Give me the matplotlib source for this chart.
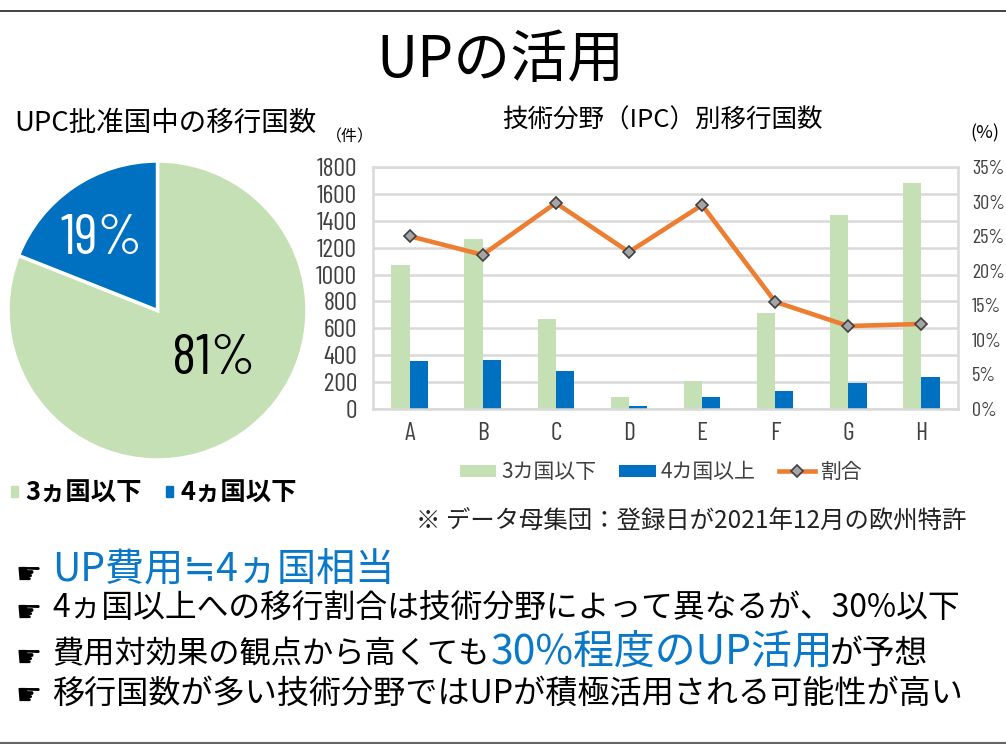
import matplotlib
matplotlib.use("Agg")
import matplotlib.pyplot as plt
from matplotlib.lines import Line2D
from matplotlib.patches import Patch
import numpy as np

plt.rcParams['font.family'] = ['Noto Sans CJK JP', 'DejaVu Sans']
NARROW = ['Barlow Condensed', 'Noto Sans CJK JP', 'DejaVu Sans']

W, H = 1006, 744
GREEN = '#C5E0B4'
BLUE = '#0070C0'
ORANGE = '#ED7D31'
TEXT_BLUE = '#0A78C8'

# data
pie_labels = ['3ヵ国以下', '4ヵ国以下']
pie_values = [81, 19]
categories = ['A', 'B', 'C', 'D', 'E', 'F', 'G', 'H']
under3 = [1070, 1268, 668, 89, 205, 712, 1446, 1684]
over4 = [356, 363, 279, 25, 89, 131, 193, 237]
ratio = [25.0, 22.3, 29.8, 22.7, 29.5, 15.5, 12.0, 12.3]
left_ticks = list(range(0, 1801, 200))
right_ticks = list(range(0, 36, 5))


def box(x0, y0, x1, y1):
    # pixel box (top-left origin) to figure fraction
    return [x0 / W, 1 - y1 / H, (x1 - x0) / W, (y1 - y0) / H]


def put(x, y, s, size, color='black', **kw):
    kw.setdefault('va', 'center')
    return fig.text(x / W, 1 - y / H, s, fontsize=size, color=color, **kw)


fig = plt.figure(figsize=(W / 100, H / 100), dpi=100)

# slide rules
fig.add_artist(Line2D([0, 1], [1 - 10.5 / H] * 2, color='#333333', lw=1.3))
fig.add_artist(Line2D([0, 1], [1 - 743 / H] * 2, color='#666666', lw=1.5))

put(500, 61, 'UPの活用', 41, ha='center')
put(14, 123, 'UPC批准国中の移行国数', 19.8)
put(662, 121, '技術分野（IPC）別移行国数', 18.4, ha='center')
put(350, 137, '（件）', 11.5, ha='center')
put(985, 133, '(%)', 13, ha='center')

# pie
ax_pie = fig.add_axes(box(8, 161, 307, 460))
ax_pie.pie(pie_values, colors=[GREEN, BLUE], startangle=90, counterclock=False,
           radius=1.0, wedgeprops=dict(edgecolor='white', linewidth=2.5))
ax_pie.set_xlim(-1, 1)
ax_pie.set_ylim(-1, 1)
put(214, 360, '81%', 41, family=NARROW, ha='center')
put(101, 239, '19%', 41, color='white', family=NARROW, ha='center')

pie_handles = [Patch(color=GREEN), Patch(color=BLUE)]
fig.legend(pie_handles, pie_labels, loc='center left',
           bbox_to_anchor=(11 / W, 1 - 493 / H), frameon=False, ncol=2,
           borderaxespad=0, borderpad=0,
           handlelength=0.27, handleheight=0.27, handletextpad=0.3,
           columnspacing=0.95, prop=dict(size=18.3, weight='bold',
                                         family=['Noto Sans CJK JP']))

# bars and line
ax = fig.add_axes(box(373, 167, 958, 409))
x = np.arange(len(categories))
bw = 0.25
b1 = ax.bar(x - bw / 2, under3, bw, color=GREEN, label='3カ国以下', zorder=2)
b2 = ax.bar(x + bw / 2, over4, bw, color=BLUE, label='4カ国以上', zorder=2)
ax.set_xlim(-0.5, 7.5)
ax.set_ylim(0, 1800)
ax.set_yticks(left_ticks)
ax.set_xticks(x)
ax.set_xticklabels(categories)
ax.grid(axis='y', color='#D9D9D9', lw=1.8, zorder=0)
ax.set_axisbelow(True)
for s in ax.spines.values():
    s.set_color('#D9D9D9')
    s.set_linewidth(1.8)
ax.tick_params(length=0)
ax.tick_params(axis='x', pad=9.5)
ax.tick_params(axis='y', pad=11.5)
for t in ax.get_xticklabels() + ax.get_yticklabels():
    t.set_family(NARROW)
    t.set_fontsize(18.5)
    t.set_color('#404040')

ax2 = ax.twinx()
l1, = ax2.plot(x, ratio, color=ORANGE, lw=3.3, marker='D', ms=6.5, mfc='#A5A5A5',
               mec='#404040', mew=1.2, label='割合', zorder=5)
ax2.set_ylim(0, 35)
ax2.set_yticks(right_ticks)
ax2.set_yticklabels([f'{v}%' for v in right_ticks])
ax2.tick_params(length=0, pad=10)
for s in ax2.spines.values():
    s.set_visible(False)
for t in ax2.get_yticklabels():
    t.set_family(NARROW)
    t.set_fontsize(14.5)
    t.set_color('#404040')

fig.legend([b1, b2, l1], ['3カ国以下', '4カ国以上', '割合'], loc='center',
           bbox_to_anchor=(661 / W, 1 - 472 / H), frameon=False, ncol=3,
           handlelength=1.75, handleheight=0.5, handletextpad=0.25, columnspacing=1.1,
           labelcolor='#404040', prop=dict(size=15))

put(416, 522, '※ データ母集団：登録日が2021年12月の欧州特許', 17.6, ha='left', color='#222222')

# bullets
bullet_y = [575, 613, 658, 696]
for y in bullet_y:
    put(16, y, '☛', 21, family=['DejaVu Sans'])
put(52, 570, 'UP費用≒4ヵ国相当', 28.2, color=TEXT_BLUE)
put(52, 608, '4ヵ国以上への移行割合は技術分野によって異なるが、30%以下', 22.9)
put(52, 654, '費用対効果の観点から高くても', 22.5)
put(491, 652, '30%程度のUP活用', 29.4, color=TEXT_BLUE)
put(830, 654, 'が予想', 23.6)
put(52, 694, '移行国数が多い技術分野ではUPが積極活用される可能性が高い', 23.1)

fig.savefig('out.png', dpi=100)
